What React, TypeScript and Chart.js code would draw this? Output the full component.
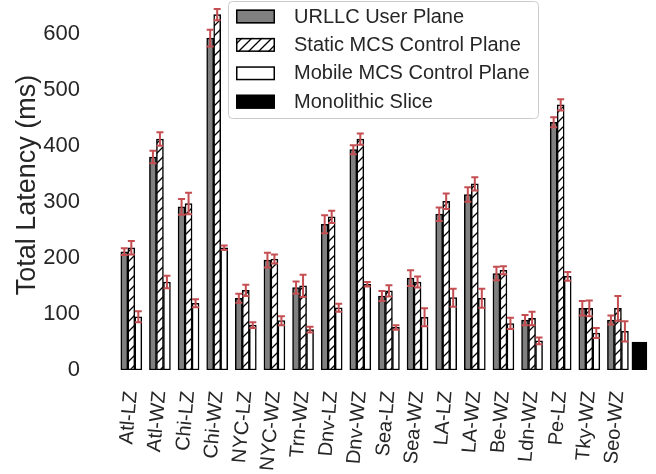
import React, { useEffect, useRef } from 'react';
import { Chart, registerables } from 'chart.js';

Chart.register(...registerables);

const categories = ['Atl-LZ', 'Atl-WZ', 'Chi-LZ', 'Chi-WZ', 'NYC-LZ', 'NYC-WZ', 'Trn-WZ', 'Dnv-LZ', 'Dnv-WZ', 'Sea-LZ', 'Sea-WZ', 'LA-LZ', 'LA-WZ', 'Be-WZ', 'Ldn-WZ', 'Pe-LZ', 'Tky-WZ', 'Seo-WZ'];
const urllcUserPlane = [211, 380, 291, 592, 128, 196, 147, 260, 393, 132, 164, 278, 313, 172, 89, 442, 110, 89];
const urllcUserPlaneErr = [6, 11, 14, 15, 8, 13, 11, 16, 8, 9, 14, 12, 13, 12, 9, 9, 13, 8];
const staticMcsControl = [218, 412, 297, 634, 142, 198, 150, 273, 412, 141, 157, 301, 332, 178, 92, 473, 110, 110];
const staticMcsControlErr = [12, 12, 19, 10, 10, 8, 20, 11, 10, 10, 10, 14, 12, 7, 12, 10, 14, 22];
const mobileMcsControl = [95, 157, 119, 218, 80, 88, 72, 111, 153, 76, 94, 129, 128, 83, 52, 167, 66, 69];
const mobileMcsControlErr = [10, 11, 7, 4, 5, 8, 5, 7, 4, 4, 16, 16, 17, 10, 6, 8, 9, 18];
const monolithicSlice = [50];
const seriesLabels = ['URLLC User Plane', 'Static MCS Control Plane', 'Mobile MCS Control Plane', 'Monolithic Slice'];
const yTicks = [0, 100, 200, 300, 400, 500, 600];
const yTitle = 'Total Latency (ms)';

const FONT = '"Liberation Sans", Arial, Helvetica, sans-serif';
const TEXT = '#262626';
const ERR = '#c44e52';

function makeHatch(ctx: CanvasRenderingContext2D) {
  const c = document.createElement('canvas');
  c.width = 10;
  c.height = 10;
  const g = c.getContext('2d')!;
  g.fillStyle = '#ffffff';
  g.fillRect(0, 0, 10, 10);
  g.strokeStyle = '#000000';
  g.lineWidth = 1.3;
  g.beginPath();
  g.moveTo(0, 10); g.lineTo(10, 0);
  g.moveTo(-5, 5); g.lineTo(5, -5);
  g.moveTo(5, 15); g.lineTo(15, 5);
  g.stroke();
  return ctx.createPattern(c, 'repeat')!;
}

const errorBarPlugin = {
  id: 'errorBars',
  afterDatasetsDraw(chart: any) {
    const { ctx } = chart;
    const yScale = chart.scales.y;
    ctx.save();
    chart.data.datasets.forEach((ds: any, di: number) => {
      const errs: number[] | undefined = ds.errors;
      if (!errs) return;
      const meta = chart.getDatasetMeta(di);
      meta.data.forEach((bar: any, j: number) => {
        const pt = ds.data[j];
        if (!pt || pt.y == null || errs[j] == null) return;
        const top = yScale.getPixelForValue(pt.y + errs[j]);
        const bot = yScale.getPixelForValue(pt.y - errs[j]);
        ctx.strokeStyle = ERR;
        ctx.lineWidth = 2;
        ctx.beginPath();
        ctx.moveTo(bar.x, top); ctx.lineTo(bar.x, bot);
        ctx.moveTo(bar.x - 3.5, top); ctx.lineTo(bar.x + 3.5, top);
        ctx.moveTo(bar.x - 3.5, bot); ctx.lineTo(bar.x + 3.5, bot);
        ctx.stroke();
      });
    });
    ctx.restore();
  },
};

const boxLegendPlugin = {
  id: 'boxLegend',
  afterDraw(chart: any) {
    const { ctx } = chart;
    ctx.save();
    ctx.beginPath();
    ctx.roundRect(228.5, 1.5, 310, 117, 4);
    ctx.fillStyle = 'rgba(255,255,255,0.8)';
    ctx.fill();
    ctx.strokeStyle = '#cccccc';
    ctx.lineWidth = 1;
    ctx.stroke();
    chart.data.datasets.forEach((ds: any, i: number) => {
      const sy = 9.5 + i * 28.4;
      ctx.fillStyle = ds.backgroundColor;
      ctx.fillRect(236, sy, 39, 14);
      ctx.strokeStyle = '#000000';
      ctx.lineWidth = 1.5;
      ctx.strokeRect(236.75, sy + 0.75, 37.5, 12.5);
      ctx.fillStyle = TEXT;
      ctx.font = `20px ${FONT}`;
      ctx.textBaseline = 'middle';
      ctx.textAlign = 'left';
      ctx.fillText(ds.label, 294, sy + 7.5);
    });
    ctx.restore();
  },
};

export default function App() {
  const ref = useRef<HTMLCanvasElement>(null);

  useEffect(() => {
    const canvas = ref.current!;
    const ctx = canvas.getContext('2d')!;
    const hatch = makeHatch(ctx);
    const pts = (vals: number[]) => vals.map((y, i) => ({ x: i, y }));
    const barBase = {
      borderColor: '#000000',
      borderWidth: 1.5,
      borderSkipped: false,
      barThickness: 7,
      skipNull: true,
    };
    Chart.defaults.font.family = FONT;

    const chart = new Chart(canvas, {
      type: 'bar',
      data: {
        datasets: [
          { ...barBase, label: seriesLabels[0], data: pts(urllcUserPlane), backgroundColor: '#808080', errors: urllcUserPlaneErr } as any,
          { ...barBase, label: seriesLabels[1], data: pts(staticMcsControl), backgroundColor: hatch, errors: staticMcsControlErr } as any,
          { ...barBase, label: seriesLabels[2], data: pts(mobileMcsControl), backgroundColor: '#ffffff', errors: mobileMcsControlErr } as any,
          {
            label: seriesLabels[3],
            data: [
              ...categories.map((_, i) => ({ x: i, y: null })),
              { x: categories.length - 0.25, y: monolithicSlice[0] },
            ],
            backgroundColor: '#000000',
            borderColor: '#000000',
            borderWidth: 1,
            borderSkipped: false,
            grouped: false,
            skipNull: true,
            barPercentage: 1,
            categoryPercentage: 1,
            maxBarThickness: 15,
          } as any,
        ],
      },
      options: {
        responsive: false,
        animation: false,
        devicePixelRatio: 1,
        layout: { padding: 0, autoPadding: false },
        plugins: { legend: { display: false }, tooltip: { enabled: false } },
        scales: {
          x: {
            type: 'linear',
            offset: false,
            min: -0.5,
            max: 18.33,
            grid: { display: false, drawTicks: false, offset: false },
            border: { display: false },
            afterBuildTicks: (axis: any) => {
              axis.ticks = categories.map((_, i) => ({ value: i }));
            },
            afterFit: (s: any) => {
              s.height = 104;
              s.paddingLeft = 0;
              s.paddingRight = 0;
            },
            ticks: {
              autoSkip: false,
              minRotation: 85,
              maxRotation: 85,
              padding: 20,
              color: TEXT,
              font: { size: 20, family: FONT },
              callback: (v: any) => categories[v] ?? '',
            },
          },
          y: {
            min: 0,
            max: 660,
            grid: { display: false, drawTicks: false },
            border: { display: false },
            afterBuildTicks: (axis: any) => {
              axis.ticks = yTicks.map((v) => ({ value: v }));
            },
            afterFit: (s: any) => {
              s.width = 117;
              s.paddingTop = 0;
              s.paddingBottom = 0;
            },
            ticks: {
              padding: 37,
              color: TEXT,
              font: { size: 22, family: FONT },
            },
            title: {
              display: true,
              text: yTitle,
              color: TEXT,
              font: { size: 27, family: FONT },
              padding: { top: 11, bottom: 0 },
            },
          },
        },
      } as any,
      plugins: [errorBarPlugin, boxLegendPlugin],
    });
    return () => chart.destroy();
  }, []);

  return (
    <div style={{ position: 'absolute', left: 0, top: 0, width: 656, height: 474, background: '#ffffff' }}>
      <canvas ref={ref} width={656} height={474} style={{ display: 'block' }} />
    </div>
  );
}
